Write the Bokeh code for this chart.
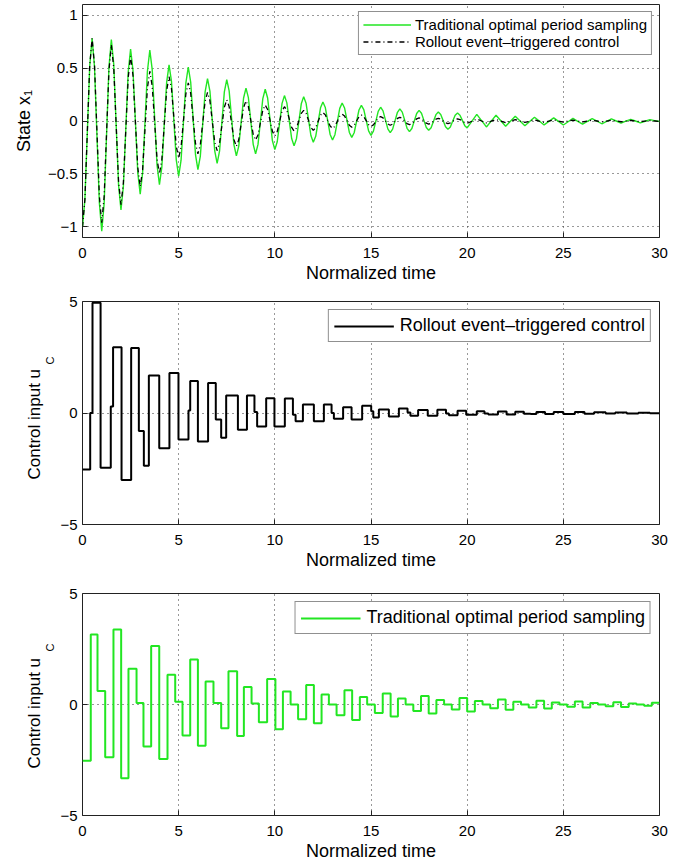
import numpy as np
from bokeh.plotting import figure
from bokeh.layouts import column
from bokeh.models import (Range1d, FixedTicker, CustomJSTickFormatter,
                          Legend, LegendItem, Title)
from bokeh.embed import file_html
from bokeh.resources import INLINE

FONT = "Liberation Sans"
GREEN = "#22e622"

# ---------------- data ----------------
x_ticks = [0, 5, 10, 15, 20, 25, 30]
state_ticks = [-1, -0.5, 0, 0.5, 1]
u_ticks = [-5, 0, 5]

state_t = np.concatenate([np.arange(0, 20, 0.125), np.arange(20, 30.0001, 0.25)])

x1_periodic = [
    -1.0, -0.74, -0.11, 0.52, 0.78, 0.51, -0.13, -0.77,
    -1.04, -0.78, -0.135, 0.51, 0.77, 0.535, -0.035, -0.605,
    -0.84, -0.62, -0.08, 0.46, 0.68, 0.48, -0.005, -0.49,
    -0.69, -0.49, -0.01, 0.47, 0.67, 0.485, 0.035, -0.415,
    -0.60, -0.435, -0.035, 0.365, 0.53, 0.377, 0.005, -0.367,
    -0.52, -0.37, -0.005, 0.36, 0.51, 0.368, 0.025, -0.318,
    -0.46, -0.334, -0.03, 0.274, 0.40, 0.283, 0.0, -0.283,
    -0.40, -0.285, -0.005, 0.275, 0.39, 0.285, 0.03, -0.225,
    -0.33, -0.237, -0.01, 0.217, 0.31, 0.22, 0.0, -0.22,
    -0.31, -0.221, -0.005, 0.211, 0.30, 0.217, 0.015, -0.187,
    -0.27, -0.196, -0.015, 0.166, 0.24, 0.171, 0.003, -0.166,
    -0.235, -0.167, -0.003, 0.162, 0.23, 0.167, 0.015, -0.137,
    -0.20, -0.145, -0.01, 0.125, 0.18, 0.127, 0.0, -0.127,
    -0.18, -0.129, -0.005, 0.119, 0.17, 0.123, 0.008, -0.108,
    -0.155, -0.111, -0.004, 0.104, 0.148, 0.107, 0.007, -0.094,
    -0.135, -0.096, -0.003, 0.091, 0.13, 0.095, 0.01, -0.075,
    -0.11, -0.077, 0.003, 0.082, 0.115, 0.084, 0.008, -0.069,
    -0.10, -0.071, 0.0, 0.071, 0.10, 0.073, 0.006, -0.061,
    -0.088, -0.063, -0.002, 0.06, 0.085, 0.061, 0.004, -0.054,
    -0.078, -0.056, -0.001, 0.054, 0.076, 0.055, 0.006, -0.044,
    -0.065, -0.001, 0.063, 0.004,
    -0.056, -0.001, 0.054, 0.002,
    -0.05, -0.003, 0.045, 0.0,
    -0.045, -0.005, 0.036, 0.0,
    -0.037, -0.004, 0.03, -0.004,
    -0.038, -0.007, 0.025, -0.003,
    -0.03, -0.004, 0.022, -0.002,
    -0.026, -0.003, 0.02, 0.0,
    -0.02, -0.002, 0.016, 0.0,
    -0.017, -0.002, 0.013, 0.004,
    -0.005,
]

x1_rollout = [
    -1.0, -0.74, -0.11, 0.52, 0.78, 0.526, -0.09, -0.706,
    -0.96, -0.715, -0.12, 0.475, 0.72, 0.50, -0.035, -0.57,
    -0.79, -0.586, -0.09, 0.406, 0.61, 0.43, -0.005, -0.44,
    -0.62, -0.461, -0.075, 0.311, 0.47, 0.328, -0.015, -0.358,
    -0.50, -0.366, -0.04, 0.286, 0.42, 0.308, 0.035, -0.238,
    -0.35, -0.246, 0.005, 0.256, 0.36, 0.262, 0.025, -0.212,
    -0.31, -0.225, -0.02, 0.185, 0.27, 0.19, -0.005, -0.20,
    -0.28, -0.21, -0.04, 0.13, 0.20, 0.136, -0.02, -0.176,
    -0.24, -0.177, -0.025, 0.127, 0.19, 0.136, 0.005, -0.126,
    -0.18, -0.132, -0.015, 0.102, 0.15, 0.108, 0.005, -0.098,
    -0.14, -0.10, -0.003, 0.095, 0.135, 0.101, 0.02, -0.061,
    -0.095, -0.067, 0.003, 0.072, 0.10, 0.073, 0.006, -0.061,
    -0.088, -0.063, -0.004, 0.055, 0.08, 0.058, 0.005, -0.048,
    -0.07, -0.05, -0.003, 0.045, 0.065, 0.047, 0.004, -0.04,
    -0.058, -0.041, 0.0, 0.04, 0.057, 0.041, 0.004, -0.034,
    -0.05, -0.037, -0.004, 0.029, 0.042, 0.03, 0.001, -0.028,
    -0.04, -0.029, -0.003, 0.024, 0.035, 0.025, 0.0, -0.025,
    -0.035, -0.026, -0.003, 0.021, 0.03, 0.021, 0.0, -0.021,
    -0.03, -0.022, -0.003, 0.017, 0.025, 0.018, 0.0, -0.018,
    -0.025, -0.018, -0.003, 0.013, 0.02, 0.014, -0.001, -0.016,
    -0.022, -0.002, 0.018, 0.0,
    -0.018, -0.002, 0.015, -0.001,
    -0.016, -0.002, 0.013, -0.001,
    -0.014, -0.002, 0.011, -0.001,
    -0.012, -0.001, 0.01, 0.0,
    -0.01, -0.001, 0.008, 0.0,
    -0.009, -0.001, 0.007, 0.0,
    -0.008, -0.001, 0.006, 0.0,
    -0.007, -0.001, 0.005, 0.0,
    -0.006, -0.001, 0.004, 0.0,
    -0.004,
]

u_rollout_t = [0, 0.40, 0.52, 0.94, 1.47, 1.59, 2.03, 2.53, 2.93, 3.19, 3.45, 3.99,
               4.52, 4.99, 5.51, 5.60, 6.00, 6.53, 6.93, 7.21, 7.47, 8.08, 8.55, 8.94,
               9.08, 9.55, 9.98, 10.52, 10.94, 11.08, 11.46, 12.03, 12.55, 12.95, 13.07,
               13.55, 13.99, 14.54, 15.01, 15.12, 15.41, 15.93, 16.45, 16.9, 17.05, 17.45,
               17.95, 18.45, 18.9, 19.05, 19.5, 19.95, 20.5, 20.9, 21.1, 21.6, 22.05, 22.5,
               22.95, 23.3, 23.6, 24.05, 24.5, 25.0, 25.6, 26.1, 26.6, 27.2, 27.7, 28.3,
               28.9, 29.5, 30.0]
u_rollout = [-2.53, 0.0, 4.94, -2.46, 0.29, 2.95, -3.0, 2.91, -0.81, -2.37, 1.68, -1.58,
             1.79, -1.19, 0.11, 1.43, -1.28, 1.35, -0.29, -1.11, 0.78, -0.75, 0.78, 0.04,
             -0.6, 0.66, -0.6, 0.65, -0.08, -0.37, 0.38, -0.37, 0.38, 0.0, -0.26, 0.26,
             -0.29, 0.32, 0.08, -0.2, 0.16, -0.16, 0.2, 0.02, -0.12, 0.14, -0.12, 0.15,
             -0.02, -0.1, 0.1, -0.08, 0.08, -0.02, -0.07, 0.07, -0.07, 0.06, -0.03, -0.05,
             0.05, -0.05, 0.05, -0.04, 0.04, -0.03, 0.03, -0.02, 0.02, -0.02, 0.01, -0.01,
             -0.01]

u_periodic_t = [0, 0.43, 0.78, 1.18, 1.61, 2.01, 2.39, 2.81, 3.17, 3.57, 3.99, 4.42, 4.82,
                5.2, 5.6, 6.0, 6.4, 6.81, 7.21, 7.59, 8.04, 8.39, 8.79, 9.17, 9.6, 10.03,
                10.42, 10.82, 11.21, 11.63, 12.03, 12.43, 12.81, 13.21, 13.62, 14.02, 14.42,
                14.8, 15.2, 15.61, 16.02, 16.4, 16.8, 17.2, 17.6, 18.0, 18.4, 18.8, 19.2,
                19.6, 20.0, 20.4, 20.8, 21.2, 21.6, 22.0, 22.4, 22.8, 23.2, 23.6, 24.0,
                24.4, 24.8, 25.2, 25.6, 26.0, 26.4, 26.8, 27.2, 27.6, 28.0, 28.4, 28.8,
                29.2, 29.6, 30.0]
u_periodic = [-2.53, 3.15, 0.61, -2.38, 3.38, -3.32, 1.61, 0.07, -1.89, 2.63, -2.46, 1.34,
              0.12, -1.4, 2.03, -1.86, 1.04, 0.07, -1.07, 1.5, -1.42, 0.79, 0.04, -0.8,
              1.15, -1.12, 0.58, 0.0, -0.66, 0.88, -0.85, 0.45, 0.0, -0.48, 0.64, -0.7,
              0.34, 0.0, -0.38, 0.49, -0.54, 0.27, 0.0, -0.29, 0.38, -0.41, 0.2, 0.0,
              -0.22, 0.29, -0.31, 0.16, 0.0, -0.17, 0.22, -0.24, 0.12, 0.0, -0.13, 0.17,
              -0.18, 0.09, 0.0, -0.1, 0.13, -0.14, 0.07, 0.0, -0.08, 0.1, -0.11, 0.05,
              0.0, -0.06, 0.08, 0.08]

label_periodic = "Traditional optimal period sampling"
label_rollout = "Rollout event\u2013triggered control"
x_label = "Normalized time"
state_label = "State x\u2081"
u_label_main = "Control input u"
u_label_sub = "C"

# ---------------- helpers ----------------
MINUS_FMT = "return tick < 0 ? '\u2212' + (-tick) : String(tick);"


def make_fig(top, frame_h, bottom, yr):
    p = figure(width=679, height=top + frame_h + bottom,
               x_range=Range1d(0, 30), y_range=Range1d(*yr),
               output_backend="svg", toolbar_location=None,
               min_border_left=82, min_border_right=20,
               min_border_top=top, min_border_bottom=bottom)
    p.background_fill_color = "white"
    p.border_fill_color = "white"
    p.outline_line_color = "#222222"
    p.outline_line_width = 1
    return p


def style(p, yticks, xgrid, ygrid):
    p.xaxis.ticker = FixedTicker(ticks=x_ticks)
    p.yaxis.ticker = FixedTicker(ticks=yticks)
    for ax in p.xaxis + p.yaxis:
        ax.formatter = CustomJSTickFormatter(code=MINUS_FMT)
        ax.major_label_text_font = FONT
        ax.major_label_text_font_size = "15px"
        ax.major_label_text_color = "black"
        ax.major_tick_in = 5
        ax.major_tick_out = 0
        ax.major_tick_line_color = "#222222"
        ax.minor_tick_line_color = None
        ax.axis_line_color = None
        ax.axis_label_text_font = FONT
        ax.axis_label_text_font_size = "18px"
        ax.axis_label_text_font_style = "normal"
        ax.axis_label_text_color = "black"
    p.xaxis.major_label_standoff = 10
    p.xaxis.axis_label = x_label
    p.xaxis.axis_label_standoff = 2
    p.yaxis.major_label_standoff = 5
    p.xgrid.ticker = FixedTicker(ticks=xgrid)
    p.ygrid.ticker = FixedTicker(ticks=ygrid)
    p.grid.grid_line_color = "#333333"
    p.grid.grid_line_dash = "1 4"
    p.grid.grid_line_width = 1


def legend(p, items, size, pad, glyph_w, standoff, lh, margin):
    lg = Legend(items=items, location="top_right")
    lg.label_text_font = FONT
    lg.label_text_font_size = size
    lg.label_text_color = "black"
    lg.padding = pad
    lg.spacing = 0
    lg.margin = margin
    lg.glyph_width = glyph_w
    lg.glyph_height = lh
    lg.label_height = lh
    lg.label_standoff = standoff
    lg.border_line_color = "#222222"
    lg.border_line_width = 1
    lg.background_fill_color = "white"
    lg.background_fill_alpha = 1.0
    p.add_layout(lg)


def u_label(p, off_main, off_sub):
    t_sub = Title(text=u_label_sub, align="left", offset=off_sub, vertical_align="top",
                  text_font=FONT, text_font_size="11px", text_font_style="normal",
                  text_color="black", standoff=0)
    t_main = Title(text=u_label_main, align="left", offset=off_main, vertical_align="bottom",
                   text_font=FONT, text_font_size="17px", text_font_style="normal",
                   text_color="black", standoff=0)
    p.add_layout(t_sub, "left")
    p.add_layout(t_main, "left")


# ---------------- top: state ----------------
p1 = make_fig(4, 233, 50, (-1.1, 1.1))
style(p1, state_ticks, [5, 10, 15, 20, 25], state_ticks)
p1.yaxis.axis_label = state_label
p1.yaxis.axis_label_standoff = 11
g1 = p1.line(state_t, x1_periodic, line_color=GREEN, line_width=1.4)
b1 = p1.line(state_t, x1_rollout, line_color="black", line_width=1.3, line_dash="5 3 1 3")
legend(p1, [LegendItem(label=label_periodic, renderers=[g1]),
            LegendItem(label=label_rollout, renderers=[b1])],
       "15px", 4, 48, 4, 17, 7)

# ---------------- middle: rollout control ----------------
p2 = make_fig(14, 223, 50, (-5, 5))
style(p2, u_ticks, [5, 10, 15, 20, 25], [0])
b2 = p2.step(u_rollout_t, u_rollout, mode="after", line_color="black", line_width=2)
legend(p2, [LegendItem(label=label_rollout, renderers=[b2])], "18px", 5, 60, 6, 20, 8)
u_label(p2, 45, 160)

# ---------------- bottom: periodic control ----------------
p3 = make_fig(19, 222, 48, (-5, 5))
style(p3, u_ticks, [5, 10, 15, 20, 25], [0])
g3 = p3.step(u_periodic_t, u_periodic, mode="after", line_color=GREEN, line_width=2)
legend(p3, [LegendItem(label=label_periodic, renderers=[g3])], "18px", 5, 60, 6, 20, 8)
u_label(p3, 47, 164)

layout = column(p1, p2, p3, spacing=0)
open("out.html", "w").write(file_html(layout, INLINE))
